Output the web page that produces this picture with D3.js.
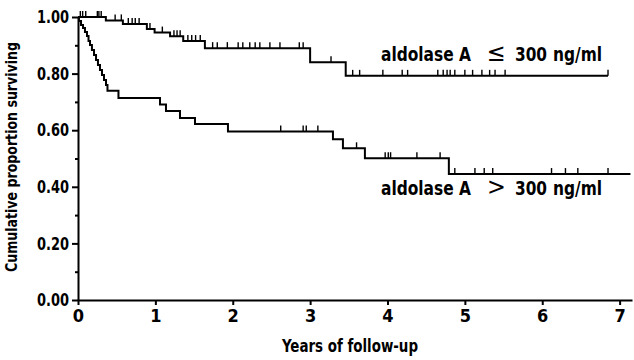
<!DOCTYPE html>
<html>
<head>
<meta charset="utf-8">
<script src="https://cdn.jsdelivr.net/npm/d3@7"></script>
<style>
  body { margin: 0; background: #fff; }
  text { font-family: "DejaVu Sans Condensed", "DejaVu Sans", sans-serif; font-stretch: condensed; font-weight: bold; fill: #000; }
  .axis path, .axis line { stroke: #000; stroke-width: 2; }
</style>
</head>
<body>
<script>
// Kaplan-Meier curves, aldolase A groups
const width = 634, height = 360

// aldolase A <= 300 ng/ml : event times (years) and survival after each drop
const lowTimes = [0.36, 0.58, 0.89, 0.99, 1.19, 1.36, 1.64, 3.00, 3.46]
const lowSurv = [0.988, 0.975, 0.958, 0.945, 0.932, 0.915, 0.89, 0.84, 0.792]
const lowCensor = [0.03, 0.06, 0.10, 0.25, 0.27, 0.30, 0.48, 0.56, 0.65, 0.70, 0.74, 0.79,
  0.93, 1.09, 1.24, 1.28, 1.32, 1.42, 1.47, 1.52, 1.58, 1.74, 1.80, 1.93, 2.07, 2.13,
  2.22, 2.29, 2.35, 2.48, 2.61, 2.86, 2.91, 3.27, 3.55, 3.64, 3.94, 4.19, 4.26, 4.65,
  4.72, 4.77, 4.81, 4.87, 5.00, 5.10, 5.22, 5.32, 5.39, 5.52, 6.85]
const lowEnd = 6.85

// aldolase A > 300 ng/ml
const highTimes = [0.013, 0.039, 0.065, 0.09, 0.116, 0.136, 0.155, 0.18, 0.207, 0.233,
  0.258, 0.284, 0.31, 0.336, 0.362, 0.381, 0.523, 1.06, 1.137, 1.318, 1.512, 1.938,
  3.295, 3.424, 3.708, 4.793]
const highSurv = [0.986, 0.972, 0.961, 0.947, 0.933, 0.915, 0.901, 0.883, 0.866, 0.848,
  0.830, 0.813, 0.795, 0.777, 0.760, 0.739, 0.714, 0.691, 0.668, 0.643, 0.622, 0.595,
  0.568, 0.536, 0.501, 0.445]
const highCensor = [2.62, 2.91, 2.95, 3.10, 3.60, 3.97, 4.01, 4.04, 4.38, 4.68, 4.87,
  5.13, 5.25, 5.36, 6.12, 6.30, 6.46, 6.85]
const highEnd = 7.14

const yMajor = [0, 0.2, 0.4, 0.6, 0.8, 1.0]
const yMinor = [0.1, 0.3, 0.5, 0.7, 0.9]
const xTicks = [0, 1, 2, 3, 4, 5, 6, 7]

const x = d3.scaleLinear()
    .domain([0, 7.16])
    .range([78, 632])

const y = d3.scaleLinear()
    .domain([0, 1])
    .range([300, 17])

const svg = d3.select("body").append("svg")
    .attr("width", width)
    .attr("height", height)

// step curve points
function kmPoints(times, surv, end){
  var pts = [[0, 1]]
  times.forEach(function(t, i){ pts.push([t, surv[i]]) })
  pts.push([end, surv[surv.length - 1]])
  return pts
}

function survAt(times, surv, t){
  var i = d3.bisectRight(times, t)
  return i === 0 ? 1 : surv[i - 1]
}

const line = d3.line()
    .x(function(d){ return x(d[0]) })
    .y(function(d){ return y(d[1]) })
    .curve(d3.curveStepAfter)

const groups = [
  { times: lowTimes, surv: lowSurv, censor: lowCensor, end: lowEnd },
  { times: highTimes, surv: highSurv, censor: highCensor, end: highEnd }
]

groups.forEach(function(g){
  svg.append("path")
      .datum(kmPoints(g.times, g.surv, g.end))
      .attr("d", line)
      .attr("fill", "none")
      .attr("stroke", "#000")
      .attr("stroke-width", 2)

  svg.selectAll(null)
      .data(g.censor)
      .enter()
      .append("line")
        .attr("x1", function(d){ return x(d) })
        .attr("x2", function(d){ return x(d) })
        .attr("y1", function(d){ return y(survAt(g.times, g.surv, d)) })
        .attr("y2", function(d){ return y(survAt(g.times, g.surv, d)) - 6 })
        .attr("stroke", "#000")
        .attr("stroke-width", 1.4)
})

// axes
const yAxis = svg.append("g")
    .attr("class", "axis")
    .attr("transform", "translate(78,0)")
    .call(d3.axisLeft(y).tickValues(yMajor).tickFormat(d3.format(".2f")).tickSize(6).tickSizeOuter(0).tickPadding(3))

yAxis.selectAll("text")
    .style("font-size", "18px")
    .attr("textLength", 32)
    .attr("lengthAdjust", "spacingAndGlyphs")

svg.append("g")
    .attr("class", "axis")
    .attr("transform", "translate(78,0)")
    .call(d3.axisLeft(y).tickValues(yMinor).tickFormat("").tickSize(3).tickSizeOuter(0))
  .select(".domain").remove()

const xAxis = svg.append("g")
    .attr("class", "axis")
    .attr("transform", "translate(0,300)")
    .call(d3.axisBottom(x).tickValues(xTicks).tickFormat(d3.format("d")).tickSize(5).tickSizeOuter(0).tickPadding(4))

xAxis.selectAll("text").style("font-size", "18px")

// axis titles
svg.append("text")
    .attr("text-anchor", "middle")
    .attr("transform", "translate(17,157) rotate(-90)")
    .attr("textLength", 230)
    .attr("lengthAdjust", "spacingAndGlyphs")
    .style("font-size", "16px")
    .text("Cumulative proportion surviving")

svg.append("text")
    .attr("text-anchor", "middle")
    .attr("x", 350)
    .attr("y", 352)
    .attr("textLength", 136)
    .attr("lengthAdjust", "spacingAndGlyphs")
    .style("font-size", "17px")
    .text("Years of follow-up")

// group labels
const labels = [
  { sign: "\u2264", base: 61 },
  { sign: ">", base: 195 }
]

labels.forEach(function(l){
  const t = svg.append("text")
      .attr("y", l.base)
      .style("font-size", "19px")
  t.append("tspan").attr("x", 381).attr("textLength", 90).attr("lengthAdjust", "spacingAndGlyphs").text("aldolase A")
  t.append("tspan").attr("x", 487).style("font-weight", "normal").style("font-family", "DejaVu Sans").style("font-size", "25px").text(l.sign)
  t.append("tspan").attr("x", 515).attr("textLength", 32).attr("lengthAdjust", "spacingAndGlyphs").text("300")
  t.append("tspan").attr("x", 553).attr("textLength", 49).attr("lengthAdjust", "spacingAndGlyphs").text("ng/ml")
})
</script>
</body>
</html>
